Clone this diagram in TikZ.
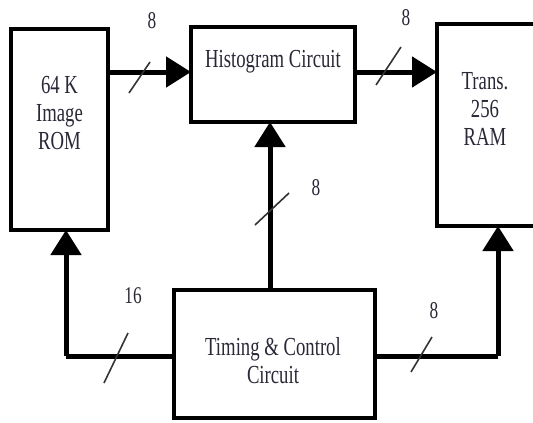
\documentclass[tikz,border=0pt]{standalone}
\usepackage{fontspec}
\setmainfont{Liberation Serif}[FakeStretch=0.72]
\usetikzlibrary{arrows.meta}
\definecolor{inkc}{RGB}{40,40,55}
\begin{document}
\begin{tikzpicture}[x=1pt,y=-1pt,
  box/.style={draw, line width=4.5pt, inner sep=0pt, outer sep=0pt},
  txt/.style={align=center, text=inkc, font=\fontsize{26}{28}\selectfont},
  lbl/.style={text=inkc, font=\fontsize{24}{26}\selectfont},
  bus/.style={line width=5pt, -{Triangle[length=25pt 0 0,width=30pt 0 0]}},
  plainbus/.style={line width=5pt},
  tick/.style={line width=1.6pt, black!80}]
\useasboundingbox (0,0) rectangle (533,423);
% boxes
\node[box, minimum width=97pt, minimum height=201pt] (rom) at (59.5,129.5) {};
\node[box, minimum width=164pt, minimum height=95pt] (hist) at (273,74.5) {};
\node[box, minimum width=105pt, minimum height=202pt] (ram) at (489.5,125) {};
\node[box, minimum width=201pt, minimum height=128pt] (tc) at (274.5,354) {};
% texts
\node[txt] (romt) at (59.5,113) {64 K\\Image\\ROM};
\node[txt] (histt) at (273,62) {Histogram Circuit};
\node[txt] (ramt) at (485,109) {Trans.\\256\\RAM};
\node[txt] (tct) at (273,361) {Timing \& Control\\Circuit};
% connectors
\draw[bus] (rom.east |- 0,72) -- (hist.west |- 0,72);
\draw[bus] (hist.east |- 0,72) -- (ram.west |- 0,72);
\draw[bus] (tc.north -| 270,0) -- (hist.south -| 270,0);
\coordinate (lc) at (66,356);
\coordinate (rc) at (498,356);
\draw[plainbus] (tc.west |- lc) -- (lc);
\draw[bus] (lc) -- (lc |- rom.south);
\draw[plainbus] (tc.east |- rc) -- (rc);
\draw[bus] (rc) -- (rc |- ram.south);
% bus width ticks
\draw[tick] (129,93) -- (150,62);
\draw[tick] (376,85) -- (401,47);
\draw[tick] (255,225) -- (289,193);
\draw[tick] (104,383) -- (128,333);
\draw[tick] (411,372) -- (432,337);
% labels
\node[lbl] (l1) at (152,21) {8};
\node[lbl] (l2) at (406,18) {8};
\node[lbl] (l3) at (316,188) {8};
\node[lbl] (l4) at (133,296) {16};
\node[lbl] (l5) at (434,311) {8};
\end{tikzpicture}
\end{document}
